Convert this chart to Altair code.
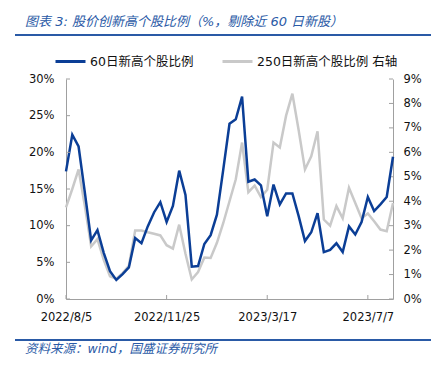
import altair as alt
import pandas as pd

# ---- data ----
start_date = "2022-08-05"
n_weeks = 53
dates = [f"{d.year}/{d.month}/{d.day}" for d in pd.date_range(start_date, periods=n_weeks, freq="7D")]
tick_dates = ["2022/8/5", "2022/11/25", "2023/3/17", "2023/7/7"]
left_ticks = [0, 5, 10, 15, 20, 25, 30]
right_ticks = [0, 1, 2, 3, 4, 5, 6, 7, 8, 9]

s1 = "60日新高个股比例"
s2 = "250日新高个股比例 右轴"

blue_vals = [17.4, 22.4, 20.8, 14.5, 8.0, 9.4, 6.3, 3.8, 2.6, 3.4, 4.3, 8.3, 7.6, 9.9,
             11.8, 13.2, 10.5, 12.7, 17.5, 14.2, 4.4, 4.5, 7.5, 8.7, 11.5, 17.6, 23.9,
             24.5, 27.6, 16.0, 16.3, 15.5, 11.3, 15.6, 12.9, 14.4, 14.4, 11.3, 7.9, 9.1,
             11.7, 6.4, 6.7, 7.6, 6.4, 9.9, 8.8, 10.5, 13.9, 12.0, 12.9, 13.9, 19.4]
grey_vals = [3.75, 4.5, 5.3, 3.8, 2.15, 2.45, 1.6, 0.93, 0.83, 1.06, 1.36, 2.8, 2.8, 2.73,
             2.67, 2.6, 2.2, 2.06, 3.04, 1.85, 0.8, 1.1, 1.7, 1.68, 2.3, 3.1, 4.0,
             4.9, 6.4, 4.37, 4.64, 4.17, 4.47, 6.4, 6.2, 7.5, 8.4, 6.9, 5.3, 5.84,
             6.86, 3.25, 3.0, 3.8, 3.3, 4.55, 3.93, 3.3, 3.5, 3.18, 2.84, 2.77, 3.93]

title_text = "图表 3: 股价创新高个股比例（%，剔除近 60 日新股）"
source_text = "资料来源：wind，国盛证券研究所"

# ---- style ----
W, H = 327, 220
BLUE = "#0b3e96"
GREY = "#c9c9c9"
AXIS_C = "#a0a0a0"
DECO_BLUE = "#2a5aa6"
NUM_FONT = "DejaVu Sans"
CJK_FONT = "DejaVu Sans, Noto Sans CJK SC"

df1 = pd.DataFrame({"date": dates, "v": blue_vals, "s": s1})
df2 = pd.DataFrame({"date": dates, "v": grey_vals, "s": s2})

x_scale = alt.Scale(type="point", domain=dates, padding=0)
x_axis = alt.Axis(values=tick_dates, labelAngle=0, title=None, ticks=False,
                  domainColor=AXIS_C, domainWidth=1, labelFont=NUM_FONT,
                  labelFontSize=11.5, labelColor="#111", labelPadding=12, grid=False)
left_axis = alt.Axis(values=left_ticks, labelExpr="datum.value + '%'", orient="left",
                     ticks=False, grid=False, domainColor=AXIS_C, labelPadding=12,
                     labelFont=NUM_FONT, labelFontSize=11.5, labelColor="#111", title=None)
right_axis = alt.Axis(values=right_ticks, labelExpr="datum.value + '%'", orient="right",
                      ticks=False, grid=False, domainColor=AXIS_C, labelPadding=10,
                      labelFont=NUM_FONT, labelFontSize=11.5, labelColor="#111", title=None)

color = alt.Color("s:N", scale=alt.Scale(domain=[s1, s2], range=[BLUE, GREY]),
                  legend=alt.Legend(orient="none", legendX=-12, legendY=-34, direction="horizontal",
                                    title=None, symbolType="stroke", symbolSize=900,
                                    symbolStrokeWidth=3, labelFont=CJK_FONT, labelFontSize=12.5,
                                    labelColor="#111", columnPadding=22, labelOffset=3, padding=0))

blue_line = alt.Chart(df1).mark_line(strokeWidth=2.5).encode(
    x=alt.X("date:O", sort=None, scale=x_scale, axis=x_axis),
    y=alt.Y("v:Q", scale=alt.Scale(domain=[0, 30]), axis=left_axis),
    color=color,
)
left_tick_rules = alt.Chart(pd.DataFrame({"v": left_ticks})).mark_rule(color=AXIS_C).encode(
    y=alt.Y("v:Q", scale=alt.Scale(domain=[0, 30]), axis=left_axis), x=alt.value(0), x2=alt.value(4))
x_tick_rules = alt.Chart(pd.DataFrame({"date": tick_dates})).mark_rule(color=AXIS_C).encode(
    x=alt.X("date:O", sort=None, scale=x_scale, axis=x_axis), y=alt.value(H - 4), y2=alt.value(H))

grey_line = alt.Chart(df2).mark_line(strokeWidth=2.5).encode(
    x=alt.X("date:O", sort=None, scale=x_scale, axis=x_axis),
    y=alt.Y("v:Q", scale=alt.Scale(domain=[0, 9]), axis=right_axis),
    color=color,
)
right_tick_rules = alt.Chart(pd.DataFrame({"v": right_ticks})).mark_rule(color=AXIS_C).encode(
    y=alt.Y("v:Q", scale=alt.Scale(domain=[0, 9]), axis=right_axis), x=alt.value(W - 4), x2=alt.value(W))

one = pd.DataFrame([{"k": 0}])
title_mark = alt.Chart(one).mark_text(align="left", baseline="middle", font=CJK_FONT,
                                      fontSize=13, fontStyle="italic", color=DECO_BLUE).encode(
    x=alt.value(-41), y=alt.value(-57), text=alt.value(title_text))
top_rule = alt.Chart(one).mark_rule(color=DECO_BLUE, strokeWidth=2).encode(
    x=alt.value(-51), x2=alt.value(365), y=alt.value(-44))
bottom_rule = alt.Chart(one).mark_rule(color=DECO_BLUE, strokeWidth=2).encode(
    x=alt.value(-51), x2=alt.value(365), y=alt.value(261))
source_mark = alt.Chart(one).mark_text(align="left", baseline="middle", font=CJK_FONT,
                                       fontSize=12.5, fontStyle="italic", color=DECO_BLUE).encode(
    x=alt.value(-41), y=alt.value(270), text=alt.value(source_text))

right_layer = alt.layer(grey_line, right_tick_rules)
left_layer = alt.layer(blue_line, left_tick_rules, x_tick_rules)

chart = alt.layer(
    right_layer, left_layer, title_mark, top_rule, bottom_rule, source_mark
).resolve_scale(y="independent").properties(
    width=W, height=H,
    autosize=alt.AutoSizeParams(type="none"),
    padding={"left": 58, "top": 71, "right": 38, "bottom": 58},
    background="white",
).configure_view(stroke=None)

chart.save("out.html", embed_options={"renderer": "svg", "actions": False})
